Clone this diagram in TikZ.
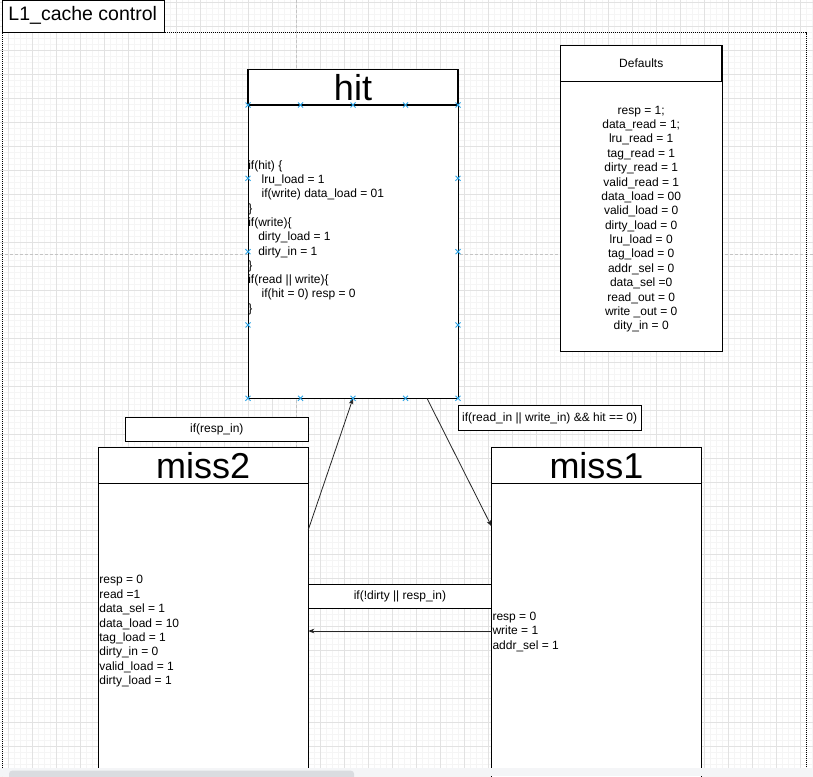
\documentclass[tikz,border=0pt]{standalone}
\usepackage{fontspec}
\setmainfont{Liberation Sans}
\usetikzlibrary{arrows.meta}
\newcommand{\LLines}[2]{\vtop{\baselineskip=#1\lineskiplimit=-100pt\lineskip=0pt\halign{##\hfil\cr#2\crcr}}}
\newcommand{\CLines}[2]{\vtop{\baselineskip=#1\lineskiplimit=-100pt\lineskip=0pt\halign{\hfil##\hfil\cr#2\crcr}}}
\definecolor{gridmajor}{HTML}{E2E2E2}
\definecolor{gridminor}{HTML}{F5F5F5}
\definecolor{pagebrk}{HTML}{C4C4C4}
\definecolor{hintblue}{HTML}{29A3E6}
\definecolor{sbbar}{HTML}{F4F5F7}
\definecolor{sbthumb}{HTML}{DADCE0}
\begin{document}
\begin{tikzpicture}[x=1pt,y=-1pt,
  box/.style={draw=black, fill=white, line width=1pt, inner sep=0pt, outer sep=0pt, rectangle, anchor=north west},
  headbox/.style={box, line width=1.1pt},
  txt/.style={inner sep=0pt, outer sep=0pt, font=\fontsize{12}{14.4}\selectfont},
  bigtxt/.style={font=\fontsize{36}{36}\selectfont},
  arr/.style={line width=0.8pt, draw=black!85, -{Stealth[length=6pt,width=4.5pt,inset=1.5pt]}},
  hintx/.style={draw=hintblue, line width=0.9pt},
  minorline/.style={draw=gridminor, line width=0.6pt},
  majorline/.style={draw=gridmajor, line width=0.8pt},
  pagebreak/.style={draw=pagebrk, line width=0.9pt, dash pattern=on 3pt off 2pt},
  frameline/.style={draw=black, line width=0.9pt, dash pattern=on 1pt off 1pt}
]
\useasboundingbox (0,0) rectangle (813,776);
\clip (0,0) rectangle (813,776);
\fill[white] (0,0) rectangle (813,776);
% grid
\foreach \i in {0,...,135} \draw[minorline] ({2.3+6*\i},0) -- ({2.3+6*\i},776);
\foreach \i in {0,...,129} \draw[minorline] (0,{2.3+6*\i}) -- (813,{2.3+6*\i});
\foreach \i in {0,...,33} \draw[majorline] ({8.3+24*\i},0) -- ({8.3+24*\i},776);
\foreach \i in {0,...,32} \draw[majorline] (0,{2.3+24*\i}) -- (813,{2.3+24*\i});
% page breaks
\draw[pagebreak] (296.3,0) -- (296.3,776);
\draw[pagebreak] (0,254.3) -- (813,254.3);
% container
\draw[frameline] (2.6,776) -- (2.6,32.7) -- (806,32.7) -- (806,776);
\node[box, minimum width=162.4pt, minimum height=32pt] (title) at (2.3,0.4) {};
\node[inner sep=0pt, anchor=base west, font=\fontsize{19.5}{20}\selectfont] (titletext) at (8.3,20.7) {L1\_cache control};

% hit state
\node[headbox, minimum width=210pt, minimum height=35.7pt, bigtxt] (hithead) at (248,69.3) {hit};
\node[box, minimum width=210pt, minimum height=293.3pt] (hitbody) at (248,105) {};
\node[txt, anchor=base west] (hittext) at (248.3,169.2) {\LLines{14.3pt}{%
if(hit) \{\cr
\kern13.3pt lru\_load = 1\cr
\kern13.3pt if(write) data\_load = 01\cr
\}\cr
if(write)\{\cr
\kern10pt dirty\_load = 1\cr
\kern10pt dirty\_in = 1\cr
\}\cr
if(read || write)\{\cr
\kern13.3pt if(hit = 0) resp = 0\cr
\}\cr}};

% defaults
\node[headbox, minimum width=161.5pt, minimum height=36pt, txt] (defhead) at (560.5,45.7) {Defaults};
\node[box, minimum width=161.5pt, minimum height=270pt] (defbody) at (560.5,81.7) {};
\node[txt, anchor=base] (deftext) at (641.2,114.1) {\CLines{14.38pt}{%
resp = 1;\cr
data\_read = 1;\cr
lru\_read = 1\cr
tag\_read = 1\cr
dirty\_read = 1\cr
valid\_read = 1\cr
data\_load = 00\cr
valid\_load = 0\cr
dirty\_load = 0\cr
lru\_load = 0\cr
tag\_load = 0\cr
addr\_sel = 0\cr
data\_sel =0\cr
read\_out = 0\cr
write \_out = 0\cr
dity\_in = 0\cr}};

% miss2 state
\node[headbox, minimum width=210pt, minimum height=35.6pt, bigtxt] (m2head) at (98.2,447.7) {miss2};
\node[box, minimum width=210pt, minimum height=300pt] (m2body) at (98.2,483.3) {};
\node[txt, anchor=base west] (m2text) at (99.4,583.8) {\LLines{14.43pt}{%
resp = 0\cr
read =1\cr
data\_sel = 1\cr
data\_load = 10\cr
tag\_load = 1\cr
dirty\_in = 0\cr
valid\_load = 1\cr
dirty\_load = 1\cr}};

% miss1 state
\node[headbox, minimum width=210pt, minimum height=35.6pt, bigtxt] (m1head) at (491.5,447.7) {miss1};
\node[box, minimum width=210pt, minimum height=300pt] (m1body) at (491.5,483.3) {};
\node[txt, anchor=base west] (m1text) at (492.5,620.5) {\LLines{14.4pt}{%
resp = 0\cr
write = 1\cr
addr\_sel = 1\cr}};

% transition labels
\node[box, minimum width=182.8pt, minimum height=24.4pt, txt] (lblresp) at (125.4,417.3) {if(resp\_in)};
\node[box, minimum width=183pt, minimum height=25pt, txt] (lblmiss) at (458.2,405.5) {if(read\_in || write\_in) \&\& hit == 0)};
\node[box, minimum width=183.4pt, minimum height=24.4pt, txt] (lbldirty) at (308.2,584.3) {if(!dirty || resp\_in)};

% transitions
\draw[arr] ([yshift=-46.7pt]m2body.north east) -- (hitbody.south);
\draw[arr] ([xshift=74pt]hitbody.south) -- ([yshift=-43pt]m1body.north west);
\draw[arr] ([yshift=-147.7pt]m1body.north west) -- ([yshift=-147.7pt]m2body.north east);

% connection hints on hit body
\foreach \f in {0,0.25,0.5,0.75,1} {
  \draw[hintx] ({248+210*\f-2.5},102.5) -- ++(5,5) ++(-5,0) -- ++(5,-5);
  \draw[hintx] ({248+210*\f-2.5},395.8) -- ++(5,5) ++(-5,0) -- ++(5,-5);
}
\foreach \f in {0.25,0.5,0.75} {
  \draw[hintx] (245.5,{105+293.3*\f-2.5}) -- ++(5,5) ++(-5,0) -- ++(5,-5);
  \draw[hintx] (455.5,{105+293.3*\f-2.5}) -- ++(5,5) ++(-5,0) -- ++(5,-5);
}

% scrollbar
\fill[sbbar] (0,767.7) rectangle (813,776);
\fill[sbthumb, rounded corners=3pt] (9,770.7) rectangle (354,782);
\end{tikzpicture}
\end{document}
